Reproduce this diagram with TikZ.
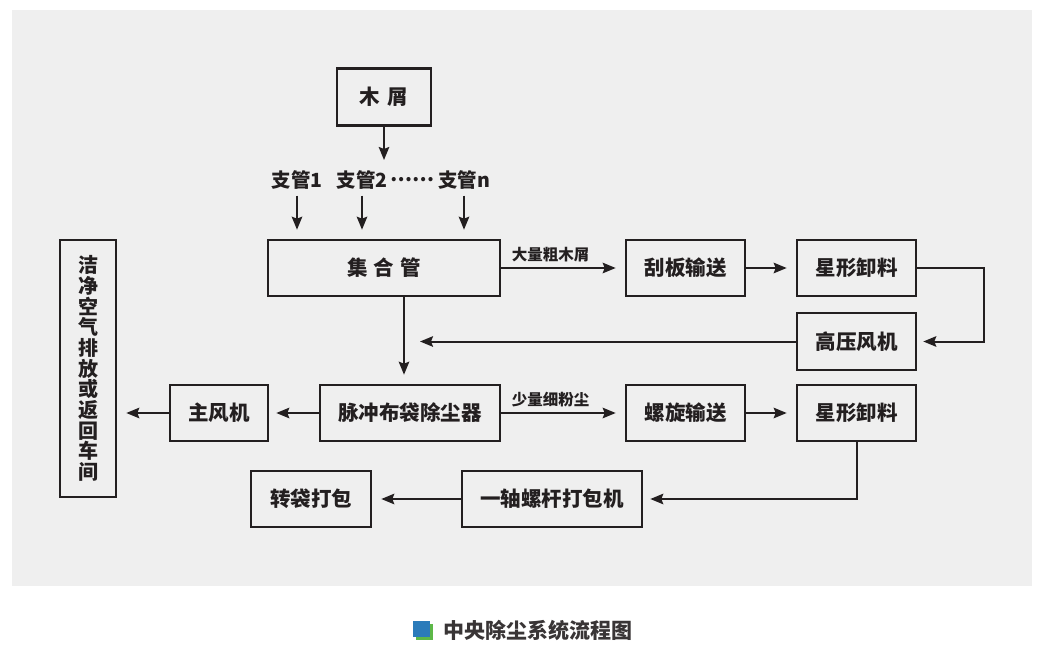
\documentclass[tikz,border=0pt]{standalone}
\usepackage{fontspec}
\newfontfamily\cjk{Noto Sans CJK SC}
\usepackage{xcolor}
\usetikzlibrary{arrows.meta}
\definecolor{ink}{HTML}{231F20}
\definecolor{panel}{HTML}{EFEFEF}
\definecolor{iconblue}{HTML}{2B7BBA}
\definecolor{icongreen}{HTML}{5DB848}
\tikzset{
  block/.style={rectangle, draw=ink, line width=2.6pt, text=ink, align=center,
                font=\cjk\bfseries\fontsize{20.5}{24}\selectfont,
                minimum width=119pt, minimum height=56pt, inner sep=0pt},
  tag/.style={text=ink, font=\cjk\bfseries\fontsize{19.5}{22}\selectfont, inner sep=1pt},
  flowtag/.style={text=ink, font=\cjk\bfseries\fontsize{15.5}{18}\selectfont, inner sep=2pt},
  arrowline/.style={-{Stealth[length=13pt, width=10.5pt, inset=2pt]}, draw=ink,
                    line width=2pt, shorten >=9pt},
}

\begin{document}
\begin{tikzpicture}[x=1pt, y=-1pt]
\useasboundingbox (0,0) rectangle (1047,659);
\fill[white] (0,0) rectangle (1047,659);
\fill[panel] (12,10) rectangle (1032,586); % grey panel

% top: saw dust and branch pipes
\node[block, minimum width=94pt, minimum height=57pt] (mx) at (384,97) {木\hspace{0.35em}屑};
\coordinate (fen) at (384,160);
\node[tag] (zg1) at (297,180) {支管1};
\node[tag] (zg2) at (362,180) {支管2};
\node[tag] (dots) at (412,180) {……};
\node[tag] (zgn) at (464,180) {支管n};
\node[block, minimum width=232pt] (jhg) at (384,268) {集\hspace{0.3em}合\hspace{0.3em}管};

% coarse dust line
\node[block] (gb) at (685.5,268) {刮板输送};
\node[block] (xx1) at (856.5,268) {星形卸料};
\node[block, minimum height=57pt] (gy) at (856.5,341.5) {高压风机};
\coordinate (hk) at (420,341.5);

% fine dust line
\node[block, minimum width=180pt] (mc) at (410,413) {脉冲布袋除尘器};
\node[block, minimum width=98pt] (zf) at (219,413) {主风机};
\node[block, minimum width=56pt, minimum height=257pt,
      font=\cjk\bfseries\fontsize{20}{20.7}\selectfont] (jk) at (88,368.5)
      {洁\\净\\空\\气\\排\\放\\或\\返\\回\\车\\间};
\node[block] (lx) at (685.5,413) {螺旋输送};
\node[block] (xx2) at (856.5,413) {星形卸料};
\node[block, minimum width=180pt] (yz) at (552,499) {一轴螺杆打包机};
\node[block, minimum width=120pt] (zd) at (311,499) {转袋打包};

\draw[arrowline, shorten >=0pt] (mx.south) -- (fen);
\foreach \p in {zg1, zg2, zgn}
  \draw[arrowline] ([yshift=-5pt]\p.south) -- (\p.south |- jhg.north);
\draw[arrowline] (jhg.east) -- (gb.west) node[flowtag, above, pos=0.4, yshift=3pt] {大量粗木屑};
\draw[arrowline] (gb.east) -- (xx1.west);
\draw[arrowline, shorten >=6pt] (xx1.east) -- ++(67,0) |- (gy.east);
\draw[arrowline, shorten >=0pt] (gy.west) -- (hk);
\draw[arrowline] ([xshift=20pt]jhg.south) -- ([xshift=20pt]jhg.south |- mc.north);
\draw[arrowline, shorten >=7pt] (mc.west) -- (zf.east);
\draw[arrowline] (zf.west) -- (zf.west -| jk.east);
\draw[arrowline] (mc.east) -- (lx.west) node[flowtag, above, pos=0.4, yshift=3pt] {少量细粉尘};
\draw[arrowline] (lx.east) -- (xx2.west);
\draw[arrowline, shorten >=7pt] (xx2.south) |- (yz.east);
\draw[arrowline] (yz.west) -- (zd.east);

% caption
\fill[icongreen] (416,624) rectangle (433,640);
\fill[iconblue] (413,621) rectangle (430,637);
\node[text=ink!90, font=\cjk\bfseries\fontsize{21}{24}\selectfont, inner sep=0pt] (cap) at (537.5,630) {中央除尘系统流程图};
\end{tikzpicture}
\end{document}
